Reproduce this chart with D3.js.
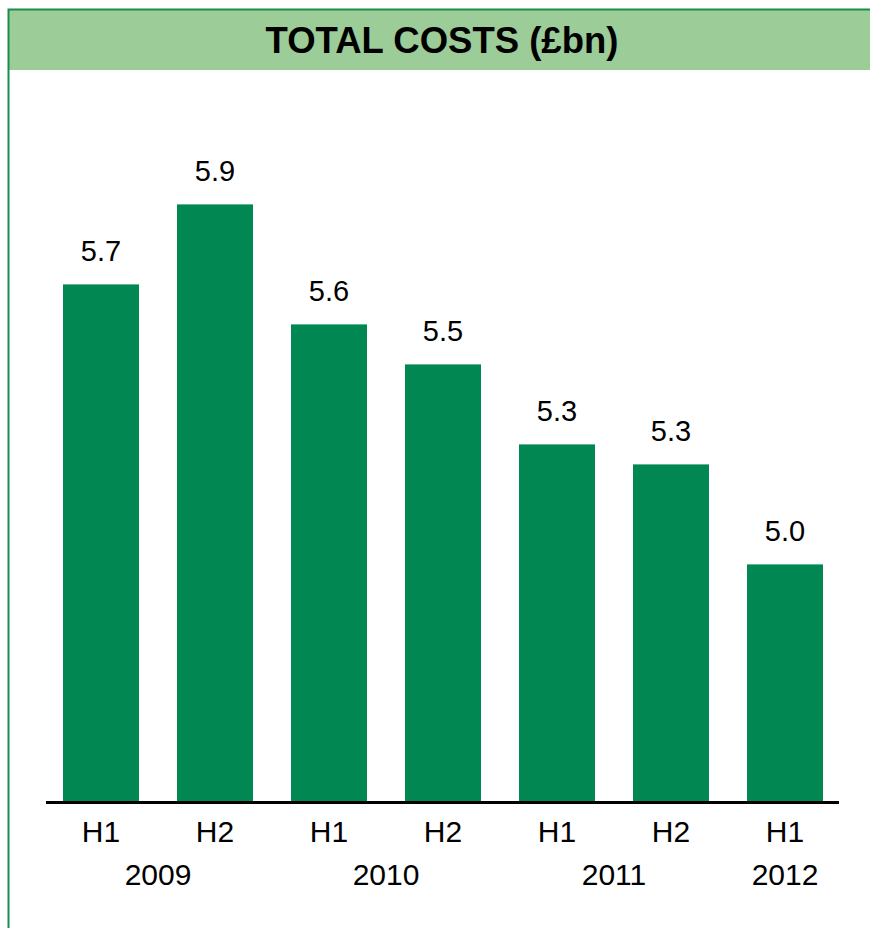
<!DOCTYPE html>
<html>
<head>
<meta charset="utf-8">
<script src="https://cdn.jsdelivr.net/npm/d3@7"></script>
<style>
  html, body { margin: 0; padding: 0; background: #fff; }
  svg { display: block; font-family: "Liberation Sans", Arial, sans-serif; }
</style>
</head>
<body>
<div id="chart"></div>
<script>
const periods = ["H1", "H2", "H1", "H2", "H1", "H2", "H1"];
const costs = [5.7, 5.9, 5.6, 5.5, 5.3, 5.25, 5.0];
const costLabels = ["5.7", "5.9", "5.6", "5.5", "5.3", "5.3", "5.0"];
const years = ["2009", "2010", "2011", "2012"];
const yearSpans = [[0, 1], [2, 3], [4, 5], [6, 6]];
const title = "TOTAL COSTS (£bn)";

const width = 870;
const height = 928;
const baseline = 802;

const svg = d3.select("#chart").append("svg")
  .attr("width", width)
  .attr("height", height);

// frame + header band
svg.append("rect")
  .attr("x", 8.5).attr("y", 10)
  .attr("width", width).attr("height", 60)
  .attr("fill", "#9ccc98");

svg.append("path")
  .attr("d", `M8.5,${height}V9.5H${width}`)
  .attr("fill", "none")
  .attr("stroke", "#1a8c50")
  .attr("stroke-width", 2);

svg.append("text")
  .attr("x", 442).attr("y", 53)
  .attr("text-anchor", "middle")
  .attr("font-size", 36.5)
  .attr("font-weight", "bold")
  .attr("fill", "#000")
  .text(title);

const x = d3.scaleBand()
  .domain(d3.range(costs.length))
  .range([63, 823])
  .paddingInner(1 / 3)
  .paddingOuter(0);

const y = d3.scaleLinear()
  .domain([4.406, 6.0])
  .range([baseline, baseline - 1.594 * 400]);

svg.append("g")
  .selectAll("rect")
  .data(costs)
  .join("rect")
  .attr("x", (d, i) => x(i))
  .attr("y", d => y(d))
  .attr("width", x.bandwidth())
  .attr("height", d => baseline - y(d))
  .attr("fill", "#008752");

svg.append("g")
  .selectAll("text")
  .data(costs)
  .join("text")
  .attr("x", (d, i) => x(i) + x.bandwidth() / 2)
  .attr("y", d => y(d) - 23)
  .attr("text-anchor", "middle")
  .attr("font-size", 29)
  .attr("fill", "#000")
  .text((d, i) => costLabels[i]);

// axis line
svg.append("line")
  .attr("x1", 46).attr("x2", 839)
  .attr("y1", baseline + 0.5).attr("y2", baseline + 0.5)
  .attr("stroke", "#000")
  .attr("stroke-width", 3);

svg.append("g")
  .selectAll("text")
  .data(periods)
  .join("text")
  .attr("x", (d, i) => x(i) + x.bandwidth() / 2)
  .attr("y", 842)
  .attr("text-anchor", "middle")
  .attr("font-size", 30)
  .attr("fill", "#000")
  .text(d => d);

svg.append("g")
  .selectAll("text")
  .data(years)
  .join("text")
  .attr("x", (d, i) => {
    const [a, b] = yearSpans[i];
    return (x(a) + x(b) + x.bandwidth()) / 2;
  })
  .attr("y", 885)
  .attr("text-anchor", "middle")
  .attr("font-size", 30)
  .attr("fill", "#000")
  .text(d => d);
</script>
</body>
</html>
